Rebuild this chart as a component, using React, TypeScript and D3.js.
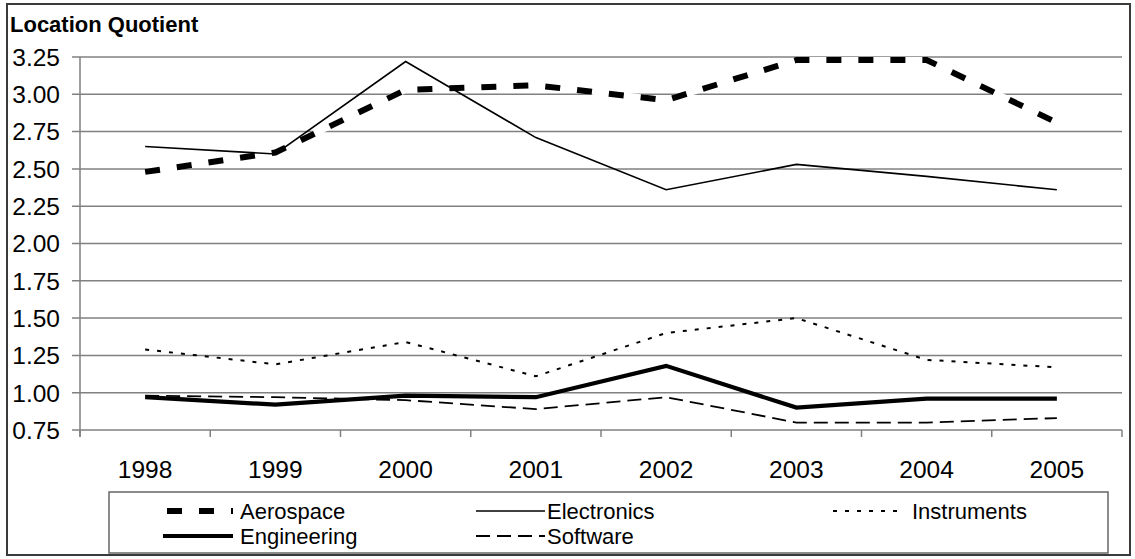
import React from "react";
import * as d3 from "d3";

// Location quotient by industry, 1998–2005
const years = ["1998", "1999", "2000", "2001", "2002", "2003", "2004", "2005"];
const aerospace = [2.48, 2.61, 3.03, 3.06, 2.96, 3.23, 3.23, 2.81];
const electronics = [2.65, 2.6, 3.22, 2.71, 2.36, 2.53, 2.45, 2.36];
const instruments = [1.29, 1.19, 1.34, 1.11, 1.4, 1.5, 1.22, 1.17];
const engineering = [0.97, 0.92, 0.98, 0.97, 1.18, 0.9, 0.96, 0.96];
const software = [0.98, 0.97, 0.95, 0.89, 0.97, 0.8, 0.8, 0.83];
const yTicks = [0.75, 1.0, 1.25, 1.5, 1.75, 2.0, 2.25, 2.5, 2.75, 3.0, 3.25];

const FONT = "'Liberation Sans', Arial, Helvetica, sans-serif";

type Style = {
  width: number;
  dash?: string;
  underlay?: boolean;
};

const styles: Record<string, Style> = {
  Aerospace: { width: 6, dash: "15 17", underlay: true },
  Electronics: { width: 1.6 },
  Instruments: { width: 2, dash: "4 8" },
  Engineering: { width: 4.2 },
  Software: { width: 1.8, dash: "14 7" },
};

const series: { name: string; values: number[] }[] = [
  { name: "Aerospace", values: aerospace },
  { name: "Electronics", values: electronics },
  { name: "Instruments", values: instruments },
  { name: "Engineering", values: engineering },
  { name: "Software", values: software },
];

const plot = { left: 80, right: 1122, top: 57, bottom: 430 };

function StyledPath({ d, st, offset = 0 }: { d: string; st: Style; offset?: number }) {
  return (
    <g>
      {st.underlay && (
        <path d={d} fill="none" stroke="#ffffff" strokeWidth={st.width} strokeLinejoin="miter" />
      )}
      <path
        d={d}
        fill="none"
        stroke="#000"
        strokeWidth={st.width}
        strokeDasharray={st.dash}
        strokeDashoffset={offset}
        strokeLinejoin="miter"
        strokeLinecap="butt"
      />
    </g>
  );
}

export default function App() {
  const x = d3.scaleBand<string>().domain(years).range([plot.left, plot.right]).padding(0);
  const y = d3.scaleLinear().domain([0.75, 3.25]).range([plot.bottom, plot.top]);
  const cx = (yr: string) => (x(yr) as number) + x.bandwidth() / 2;

  const line = d3
    .line<number>()
    .x((_, i) => cx(years[i]))
    .y((v) => y(v));

  const boundaries = years.map((yr) => x(yr) as number).concat([plot.right]);

  const legendRows = [
    { name: "Aerospace", x0: 163, x1: 233, tx: 240, cy: 511 },
    { name: "Electronics", x0: 476, x1: 545, tx: 547, cy: 511 },
    { name: "Instruments", x0: 833, x1: 905, tx: 912, cy: 511 },
    { name: "Engineering", x0: 163, x1: 233, tx: 240, cy: 536 },
    { name: "Software", x0: 476, x1: 545, tx: 547, cy: 536 },
  ];

  return (
    <svg
      width={1135}
      height={559}
      style={{ position: "absolute", left: 0, top: 0, background: "#fff" }}
      fontFamily={FONT}
    >
      <rect x={0} y={0} width={1135} height={559} fill="#fff" />
      {/* outer frame */}
      <rect x={7} y={4} width={1123} height={551} fill="none" stroke="#3a3a3a" strokeWidth={2} />

      <text x={10} y={32} fontSize={22} fontWeight="bold" fill="#000">
        Location Quotient
      </text>

      {/* horizontal gridlines and y ticks */}
      {yTicks.map((t) => (
        <g key={t}>
          <line x1={72} x2={plot.right} y1={y(t)} y2={y(t)} stroke="#808080" strokeWidth={1.5} />
          <text x={60} y={y(t)} dy="0.36em" textAnchor="end" fontSize={24.5} fill="#000">
            {t.toFixed(2)}
          </text>
        </g>
      ))}

      {/* y axis */}
      <line x1={plot.left} x2={plot.left} y1={plot.top} y2={plot.bottom + 7} stroke="#808080" strokeWidth={1.5} />

      {/* x ticks between categories */}
      {boundaries.map((bx, i) => (
        <line key={i} x1={bx} x2={bx} y1={plot.bottom} y2={plot.bottom + 7} stroke="#808080" strokeWidth={1.5} />
      ))}

      {years.map((yr) => (
        <text key={yr} x={cx(yr)} y={478} textAnchor="middle" fontSize={24.5} fill="#000">
          {yr}
        </text>
      ))}

      {/* series lines */}
      {series.map((s) => (
        <StyledPath key={s.name} d={line(s.values) as string} st={styles[s.name]} />
      ))}

      {/* legend */}
      <rect x={109} y={492} width={999} height={61} fill="#fff" stroke="#666" strokeWidth={1.5} />
      {legendRows.map((r) => (
        <g key={r.name}>
          <StyledPath
            d={`M${r.x0},${r.cy}L${r.x1},${r.cy}`}
            st={styles[r.name]}
            offset={r.name === "Aerospace" ? 28 : 0}
          />
          <text x={r.tx} y={r.cy + 8} fontSize={22} fill="#000">
            {r.name}
          </text>
        </g>
      ))}
    </svg>
  );
}
